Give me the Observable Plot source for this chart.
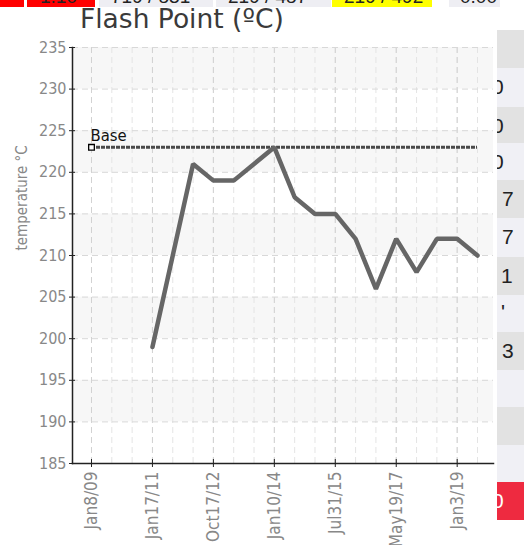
<!DOCTYPE html>
<html>
<head>
<meta charset="utf-8">
<script src="https://cdn.jsdelivr.net/npm/d3@7"></script>
<script src="https://cdn.jsdelivr.net/npm/@observablehq/plot@0.6"></script>
<style>
  html, body { margin: 0; padding: 0; }
  body { width: 524px; height: 545px; overflow: hidden; position: relative; background: #fff; font-family: "Liberation Sans", Arial, sans-serif; }
  .cell { position: absolute; overflow: hidden; color: #222; font-size: 19px; white-space: nowrap; }
  #panel { position: absolute; left: 0; top: 7px; width: 497px; height: 538px; background: #fff; }
  #chart { position: absolute; left: 0; top: 0; width: 497px; }
  #title { position: absolute; left: 80px; top: 8px; font-family: "DejaVu Sans", sans-serif; font-size: 26.5px; line-height: 22px; color: #3a3a3a; white-space: nowrap; }
</style>
</head>
<body>
<div id="bg"></div>
<div id="panel"></div>
<div id="chart"></div>
<div id="title">Flash Point (ºC)</div>
<script>
// ---- data ----
const categories = ["Jan8/09","Jun2/09","Mar15/10","Jan17/11","May4/11","Sep20/11","Oct17/12","Mar5/13","Aug12/13","Jan10/14","Jun23/14","Dec1/14","Jul31/15","Jan14/16","Aug8/16","May19/17","Nov2/17","Jun6/18","Jan3/19","Jul15/19"];
const flashPoint = [null,null,null,199,210,221,219,219,221,223,217,215,215,212,206,212,208,212,212,210];
const baseValue = 223;
const baseLabel = "Base";
const xTickLabels = ["Jan8/09","Jan17/11","Oct17/12","Jan10/14","Jul31/15","May19/17","Jan3/19"];
const yTicks = [185,190,195,200,205,210,215,220,225,230,235];
const shadedBands = [[230,235],[220,225],[210,215],[200,205],[190,195]];
const yLabel = "temperature °C";

// ---- background table fragments (decoration) ----
const topCells = [
  {x:0, w:24, bg:"#ff0000", t:""},
  {x:27, w:68, bg:"#ff0000", t:"1.10", tx:13},
  {x:99, w:114, bg:"#eeeef3", t:"719 / 831", tx:12},
  {x:216, w:115, bg:"#eeeef3", t:"219 / 487", tx:12},
  {x:332, w:100, bg:"#ffff00", t:"219 / 492", tx:12},
  {x:449, w:51, bg:"#eeeef3", t:"0.00", tx:11}
];
const sideRows = [
  {y:30, h:38, bg:"#e2e2e2", t:""},
  {y:68, h:39, bg:"#f0f0f5", t:"0", tx:-5},
  {y:107, h:36, bg:"#e2e2e2", t:"0", tx:-5},
  {y:143, h:37, bg:"#f0f0f5", t:"0", tx:-5},
  {y:180, h:38, bg:"#e2e2e2", t:"7", tx:5},
  {y:218, h:39, bg:"#f0f0f5", t:"7", tx:5},
  {y:257, h:38, bg:"#e2e2e2", t:"1", tx:4},
  {y:295, h:37, bg:"#f0f0f5", t:"'", tx:4, ty:6},
  {y:332, h:38, bg:"#e2e2e2", t:"3", tx:5},
  {y:370, h:37, bg:"#f0f0f5", t:""},
  {y:407, h:38, bg:"#e2e2e2", t:""},
  {y:445, h:37, bg:"#f0f0f5", t:""},
  {y:482, h:38, bg:"#ee2a40", t:"0", tx:-5, col:"#fff"}
];
const bg = document.getElementById("bg");
for (const c of topCells) {
  const d = document.createElement("div");
  d.className = "cell";
  Object.assign(d.style, {left: c.x+"px", top: "0px", width: c.w+"px", height: "7px", background: c.bg});
  if (c.t) {
    const s = document.createElement("span");
    s.textContent = c.t;
    Object.assign(s.style, {position:"absolute", left: c.tx+"px", top: "-13px", lineHeight: "20px"});
    d.appendChild(s);
  }
  bg.appendChild(d);
}
for (const r of sideRows) {
  const d = document.createElement("div");
  d.className = "cell";
  Object.assign(d.style, {left: "497px", top: r.y+"px", width: "27px", height: r.h+"px", background: r.bg, overflow: "visible"});
  if (r.t) {
    const s = document.createElement("span");
    s.textContent = r.t;
    Object.assign(s.style, {position:"absolute", left: r.tx+"px", top: (r.ty||8)+"px", lineHeight: "22px", fontSize: "21px", color: r.col||"#222"});
    d.appendChild(s);
  }
  bg.appendChild(d);
}

// ---- chart ----
const series = categories.map((c, i) => ({date: c, value: flashPoint[i]})).filter(d => d.value != null);
const font = `"DejaVu Sans Condensed", "DejaVu Sans", sans-serif`;

const chart = Plot.plot({
  width: 497,
  height: 545,
  marginLeft: 72,
  marginRight: 4,
  marginTop: 47,
  marginBottom: 82,
  style: {background: "transparent", fontFamily: font, fontSize: "16px", color: "#888", fontStretch: "condensed"},
  x: {type: "point", domain: categories, range: [91, 477], padding: 0, round: false},
  y: {domain: [185, 235]},
  marks: [
    Plot.rect(shadedBands, {y1: d => d[0], y2: d => d[1], fill: "#f7f7f7"}),
    Plot.ruleX(categories, {stroke: "#e4e4e4", strokeDasharray: "6,4"}),
    Plot.ruleX(xTickLabels, {stroke: "#d2d2d2", strokeDasharray: "6,4"}),
    Plot.ruleY(yTicks.filter(v => v > 185), {stroke: "#d8d8d8", strokeDasharray: "6,4"}),
    Plot.ruleY([baseValue], {y: d => d, x1: () => categories[0], x2: () => categories[categories.length - 1], stroke: "#4a4a4a", strokeWidth: 3, strokeDasharray: "4,1"}),
    Plot.line(series, {x: "date", y: "value", stroke: "#666", strokeWidth: 4.5, strokeLinejoin: "miter"}),
    Plot.dot([baseValue], {x: () => categories[0], y: d => d, symbol: "square", r: 3.2, stroke: "#000", fill: "#fff", strokeWidth: 1.3}),
    Plot.text([baseLabel], {x: () => categories[0], y: () => baseValue, text: d => d, textAnchor: "start", dx: -1, dy: -12, fill: "#111", fontSize: 16.5}),
    Plot.axisY({ticks: yTicks, tickSize: 6, dx: 3, tickPadding: 3, stroke: "#222", fill: "#888", label: null}),
    Plot.text([yLabel], {frameAnchor: "left", rotate: -90, dx: -50, dy: -5, text: d => d, fill: "#888", fontSize: 15}),
    Plot.axisX({ticks: xTickLabels, tickSize: 8, dy: -4, tickPadding: 4, tickRotate: -90, stroke: "#222", fill: "#888", fontSize: 17, label: null}),
    Plot.frame({anchor: "left", stroke: "#222", strokeWidth: 1.5}),
    Plot.frame({anchor: "bottom", stroke: "#222", strokeWidth: 1.5})
  ]
});
document.getElementById("chart").appendChild(chart);
</script>
</body>
</html>
